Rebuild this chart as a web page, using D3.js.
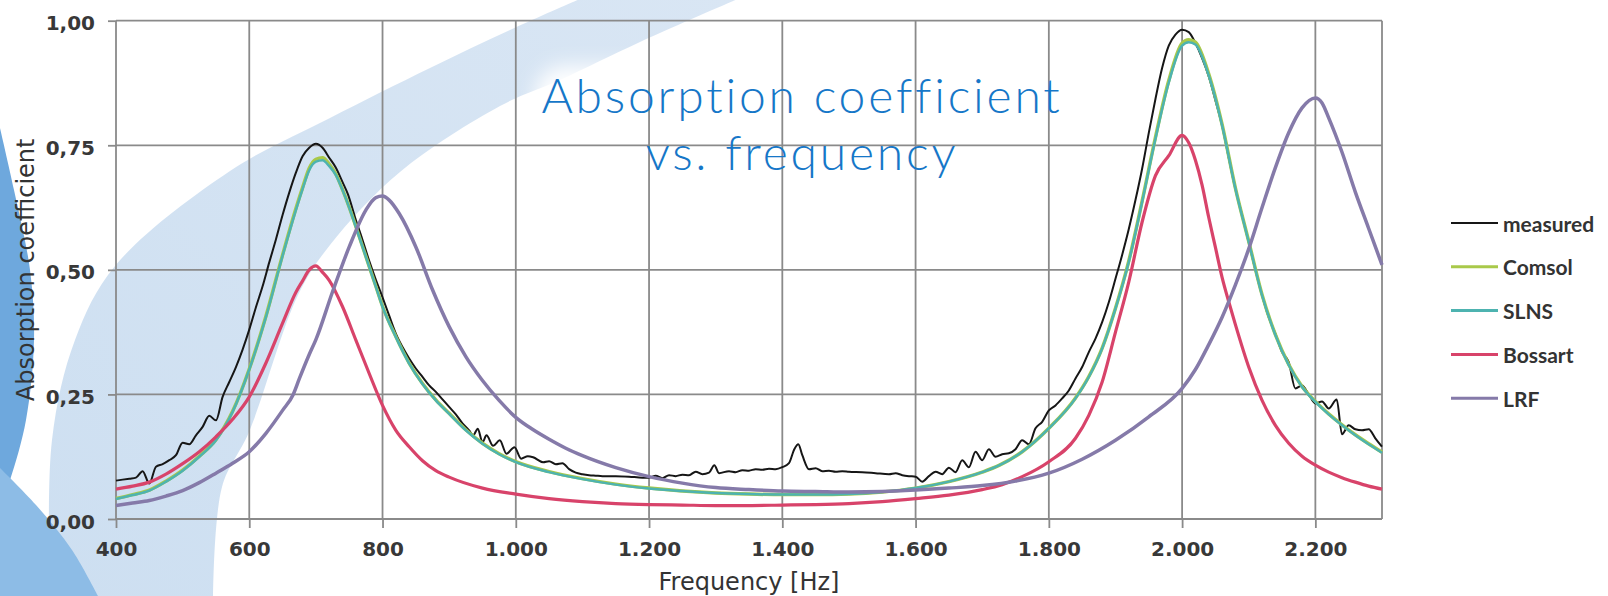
<!DOCTYPE html>
<html>
<head>
<meta charset="utf-8">
<script src="https://cdn.jsdelivr.net/npm/d3@7"></script>
<style>
  html, body { margin: 0; padding: 0; background: #fff; }
  svg { display: block; }
</style>
</head>
<body>
<svg id="chart"></svg>
<script>
// data: [frequency Hz, absorption coefficient]
var measured = [
  [400,.077],[410,.079],[420,.081],[430,.083],[440,.096],[450,.071],[460,.105],[470,.110],[480,.118],[490,.128],
  [500,.153],[510,.150],[520,.168],[530,.185],[540,.207],[550,.198],[560,.245],[570,.275],[580,.305],[590,.340],
  [600,.380],[610,.425],[620,.467],[630,.515],[640,.561],[650,.610],[660,.655],[670,.695],[680,.728],[690,.745],
  [700,.753],[710,.745],[720,.725],[730,.705],[740,.676],[748,.652],[760,.600],[770,.560],[780,.518],[790,.480],
  [800,.445],[810,.408],[820,.372],[830,.345],[840,.322],[850,.302],[860,.285],[870,.268],[880,.255],[890,.240],
  [900,.225],[910,.210],[920,.192],[930,.178],[936,.168],[943,.181],[950,.154],[956,.168],[966,.147],[976,.158],
  [986,.131],[998,.144],[1008,.121],[1018,.126],[1026,.124],[1041,.114],[1050,.116],[1060,.110],[1070,.112],[1080,.100],
  [1090,.093],[1100,.090],[1110,.088],[1120,.087],[1130,.086],[1150,.086],[1170,.085],[1190,.083],[1200,.083],[1210,.087],
  [1220,.082],[1230,.088],[1240,.086],[1250,.089],[1260,.088],[1270,.095],[1280,.090],[1290,.093],[1298,.108],[1305,.092],
  [1320,.096],[1330,.094],[1340,.098],[1350,.097],[1360,.100],[1370,.099],[1380,.101],[1390,.100],[1400,.104],[1410,.112],
  [1418,.140],[1424,.150],[1430,.128],[1440,.100],[1450,.102],[1460,.096],[1470,.097],[1480,.095],[1490,.096],[1500,.095],
  [1520,.094],[1540,.092],[1560,.090],[1570,.092],[1580,.088],[1590,.086],[1600,.085],[1610,.075],[1620,.086],[1630,.095],
  [1640,.090],[1650,.103],[1660,.094],[1670,.118],[1680,.104],[1690,.135],[1700,.118],[1710,.140],[1720,.125],[1730,.130],
  [1740,.132],[1750,.140],[1760,.158],[1770,.150],[1780,.182],[1790,.195],[1800,.218],[1810,.228],[1820,.242],[1830,.258],
  [1840,.282],[1850,.305],[1860,.335],[1870,.362],[1880,.395],[1890,.435],[1900,.482],[1910,.530],[1920,.582],[1930,.640],
  [1940,.703],[1950,.775],[1960,.843],[1970,.905],[1980,.950],[1990,.972],[2000,.982],[2010,.977],[2020,.955],[2030,.925],
  [2040,.888],[2050,.840],[2060,.790],[2070,.725],[2080,.663],[2090,.610],[2100,.556],[2110,.500],[2120,.449],[2130,.405],
  [2140,.372],[2150,.335],[2160,.315],[2170,.262],[2180,.268],[2190,.250],[2200,.232],[2210,.236],[2220,.222],[2232,.240],
  [2240,.170],[2250,.188],[2260,.180],[2270,.178],[2280,.180],[2290,.162],[2300,.145]
];

var slns = [
  [400,.040],[425,.048],[450,.057],[475,.075],[500,.097],[525,.125],[550,.158],[575,.215],[600,.300],[625,.405],
  [650,.528],[670,.620],[680,.662],[690,.700],[700,.717],[710,.720],[720,.708],[730,.690],[740,.660],[750,.625],
  [760,.586],[770,.546],[780,.506],[790,.466],[800,.426],[820,.365],[840,.312],[860,.271],[880,.238],[900,.211],
  [925,.178],[950,.151],[975,.130],[1000,.114],[1050,.094],[1100,.080],[1150,.069],[1200,.061],[1250,.056],[1300,.052],
  [1350,.050],[1400,.049],[1450,.049],[1500,.050],[1550,.054],[1600,.062],[1650,.075],[1700,.094],[1726,.108],[1760,.135],
  [1800,.182],[1840,.242],[1860,.285],[1880,.342],[1900,.422],[1920,.516],[1940,.636],[1960,.763],[1980,.876],[2000,.950],
  [2010,.957],[2020,.952],[2040,.890],[2060,.790],[2080,.663],[2100,.556],[2120,.449],[2140,.369],[2160,.309],[2180,.265],
  [2200,.235],[2220,.210],[2240,.188],[2260,.168],[2280,.150],[2300,.133]
];

var comsol = [
  [400,.041],[425,.049],[450,.058],[475,.076],[500,.098],[525,.126],[550,.159],[575,.216],[600,.301],[625,.407],
  [650,.530],[670,.623],[680,.665],[690,.704],[700,.722],[710,.725],[720,.712],[730,.692],[740,.661],[750,.626],
  [760,.587],[770,.547],[780,.507],[790,.467],[800,.427],[820,.366],[840,.313],[860,.272],[880,.239],[900,.212],
  [925,.179],[950,.152],[975,.131],[1000,.115],[1050,.095],[1100,.081],[1150,.070],[1200,.062],[1250,.056],[1300,.052],
  [1350,.050],[1400,.049],[1450,.049],[1500,.050],[1550,.054],[1600,.062],[1650,.075],[1700,.094],[1726,.108],[1760,.135],
  [1800,.182],[1840,.243],[1860,.286],[1880,.343],[1900,.423],[1920,.518],[1940,.638],[1960,.766],[1980,.880],[2000,.955],
  [2010,.962],[2020,.957],[2040,.893],[2060,.792],[2080,.664],[2100,.557],[2120,.450],[2140,.370],[2160,.310],[2180,.266],
  [2200,.236],[2220,.211],[2240,.189],[2260,.169],[2280,.151],[2300,.134]
];

var bossart = [
  [400,.060],[425,.066],[450,.074],[475,.090],[500,.111],[525,.135],[550,.165],[575,.200],[600,.245],[625,.313],
  [650,.393],[670,.455],[680,.478],[690,.500],[700,.508],[710,.495],[720,.479],[740,.426],[760,.359],[780,.292],
  [800,.228],[820,.178],[840,.145],[860,.117],[880,.097],[900,.084],[950,.062],[1000,.050],[1050,.041],[1100,.035],
  [1150,.031],[1200,.029],[1250,.028],[1300,.027],[1350,.027],[1400,.028],[1450,.029],[1500,.031],[1550,.035],[1600,.041],
  [1650,.048],[1700,.059],[1730,.069],[1760,.085],[1800,.115],[1840,.162],[1860,.208],[1880,.275],[1900,.375],[1920,.476],
  [1940,.596],[1960,.689],[1980,.729],[2000,.770],[2010,.755],[2020,.720],[2030,.670],[2040,.605],[2050,.545],[2060,.485],
  [2070,.436],[2080,.390],[2100,.305],[2120,.238],[2140,.188],[2160,.152],[2180,.126],[2200,.108],[2220,.094],[2240,.083],
  [2260,.074],[2280,.066],[2300,.060]
];

var lrf = [
  [400,.027],[425,.032],[450,.037],[475,.046],[500,.057],[525,.073],[550,.092],[575,.112],[600,.135],[625,.172],
  [650,.218],[666,.250],[675,.281],[690,.330],[700,.360],[725,.456],[750,.546],[775,.620],[790,.645],[800,.648],
  [810,.640],[825,.613],[850,.546],[875,.460],[900,.386],[925,.326],[950,.278],[975,.238],[1000,.204],[1025,.180],
  [1050,.160],[1075,.142],[1100,.127],[1150,.103],[1200,.085],[1250,.072],[1300,.063],[1350,.059],[1400,.056],[1450,.055],
  [1500,.054],[1550,.055],[1600,.058],[1650,.062],[1700,.067],[1750,.076],[1800,.092],[1850,.120],[1900,.158],[1950,.205],
  [2000,.262],[2020,.300],[2040,.350],[2060,.405],[2080,.470],[2100,.542],[2120,.625],[2140,.705],[2160,.775],[2180,.825],
  [2200,.845],[2210,.835],[2220,.805],[2240,.736],[2260,.656],[2280,.583],[2300,.510]
];

var seriesNames = ["measured", "Comsol", "SLNS", "Bossart", "LRF"];
var seriesColors = ["#161616", "#a9c94a", "#4db3b0", "#d8436a", "#857aa9"];
var seriesWidths = [2, 3.5, 2.5, 3.2, 3.5];
var seriesData = [measured, comsol, slns, bossart, lrf];

var xTicks = [400, 600, 800, 1000, 1200, 1400, 1600, 1800, 2000, 2200];
var yTicks = [0, 0.25, 0.5, 0.75, 1];

var width = 1608, height = 596;
var plot = {left: 116, right: 1382, top: 20.7, bottom: 519};

var svg = d3.select("#chart")
  .attr("width", width)
  .attr("height", height);

// background swoosh (decoration only)
var defs = svg.append("defs");
var grad = defs.append("linearGradient")
  .attr("id", "bandGrad")
  .attr("x1", 0).attr("y1", 1).attr("x2", 1).attr("y2", 0);
grad.append("stop").attr("offset", "0%").attr("stop-color", "#cddff1");
grad.append("stop").attr("offset", "100%").attr("stop-color", "#d9e6f4");
defs.append("filter").attr("id", "soft")
  .attr("x", "-20%").attr("y", "-40%").attr("width", "140%").attr("height", "180%")
  .append("feGaussianBlur").attr("stdDeviation", 10);

var bgLine = d3.line().curve(d3.curveCatmullRom.alpha(0.5));
var outerEdge = [[50,600],[52,440],[75,340],[115,266],[230,171],[330,118],[430,68],[510,30],[582,-2]];
var innerEdge = [[740,-2],[640,42],[560,80],[500,106],[400,172],[330,245],[298,295],[249,432],[222,487],[213,600]];
svg.append("path")
  .attr("d", bgLine(outerEdge) + "L" + bgLine(innerEdge).slice(1) + "Z")
  .attr("fill", "url(#bandGrad)");

svg.append("path")
  .attr("d", bgLine([[0,128],[14,190],[30,270],[34,340],[26,420],[10,480],[0,505]]) + "Z")
  .attr("fill", "#6ea8dd");

svg.append("path")
  .attr("d", bgLine([[0,468],[36,505],[72,550],[100,600]]) + "L0,600Z")
  .attr("fill", "#8dbce6");

// white glow behind the title
svg.append("rect")
  .attr("x", 535).attr("y", 66).attr("width", 535).attr("height", 118)
  .attr("rx", 30)
  .attr("fill", "#fff")
  .attr("filter", "url(#soft)");

var x = d3.scaleLinear().domain([400, 2300]).range([plot.left, plot.right]);
var y = d3.scaleLinear().domain([0, 1]).range([plot.bottom, plot.top]);

// grid
var grid = svg.append("g");
grid.selectAll(".vgrid")
  .data(xTicks.concat([2300]))
  .enter().append("line")
  .attr("x1", function(d) { return x(d); })
  .attr("x2", function(d) { return x(d); })
  .attr("y1", plot.top)
  .attr("y2", plot.bottom)
  .attr("stroke", "#8a8a8a")
  .attr("stroke-width", 1.8);
grid.selectAll(".hgrid")
  .data(yTicks)
  .enter().append("line")
  .attr("x1", plot.left)
  .attr("x2", plot.right)
  .attr("y1", function(d) { return y(d); })
  .attr("y2", function(d) { return y(d); })
  .attr("stroke", "#8a8a8a")
  .attr("stroke-width", 1.8);

var xAxis = svg.append("g")
  .attr("transform", "translate(0," + plot.bottom + ")")
  .call(d3.axisBottom(x)
    .tickValues(xTicks)
    .tickSize(9)
    .tickPadding(14)
    .tickFormat(function(d) { return d3.format(",")(d).replace(/,/g, "."); }));

var yAxis = svg.append("g")
  .attr("transform", "translate(" + plot.left + ",0)")
  .call(d3.axisLeft(y)
    .tickValues(yTicks)
    .tickSize(8)
    .tickPadding(13)
    .tickFormat(function(d) { return d3.format(".2f")(d).replace(".", ","); }));

[xAxis, yAxis].forEach(function(ax) {
  ax.select(".domain").remove();
  ax.selectAll(".tick line").attr("stroke", "#8a8a8a").attr("stroke-width", 1.8);
  ax.selectAll(".tick text")
    .attr("fill", "#383838")
    .style("font-family", "'DejaVu Sans', sans-serif")
    .style("font-weight", "bold")
    .style("font-size", "20px");
});
yAxis.selectAll(".tick text").attr("dy", "0.45em");

// axis titles
svg.append("text")
  .attr("transform", "translate(26," + ((plot.top + plot.bottom) / 2) + ") rotate(-90)")
  .attr("text-anchor", "middle")
  .attr("dominant-baseline", "central")
  .attr("fill", "#333")
  .style("font-family", "'DejaVu Sans', sans-serif")
  .style("font-size", "24px")
  .text("Absorption coefficient");

svg.append("text")
  .attr("x", (plot.left + plot.right) / 2)
  .attr("y", 590)
  .attr("text-anchor", "middle")
  .attr("fill", "#333")
  .style("font-family", "'DejaVu Sans', sans-serif")
  .style("font-size", "24px")
  .text("Frequency [Hz]");

// series
var line = d3.line()
  .x(function(d) { return x(d[0]); })
  .y(function(d) { return y(d[1]); })
  .curve(d3.curveMonotoneX);

var lines = svg.append("g");
seriesData.forEach(function(data, i) {
  lines.append("path")
    .datum(data)
    .attr("d", line)
    .attr("fill", "none")
    .attr("stroke", seriesColors[i])
    .attr("stroke-width", seriesWidths[i])
    .attr("stroke-linejoin", "round");
});

// title
var title = svg.append("text")
  .attr("text-anchor", "middle")
  .attr("fill", "#1677c8")
  .style("font-family", "Lato, sans-serif")
  .style("font-weight", 300)
  .style("font-size", "48px")
  .style("letter-spacing", "2.8px");
title.append("tspan").attr("x", 802).attr("y", 113).text("Absorption coefficient");
title.append("tspan").attr("x", 802).attr("y", 170).text("vs. frequency");

// legend
var legend = svg.append("g");
seriesNames.forEach(function(name, i) {
  var ly = 223 + i * 43.8;
  legend.append("line")
    .attr("x1", 1451).attr("x2", 1498)
    .attr("y1", ly).attr("y2", ly)
    .attr("stroke", seriesColors[i])
    .attr("stroke-width", i == 0 ? 2 : 3);
  legend.append("text")
    .attr("x", 1503)
    .attr("y", ly)
    .attr("dominant-baseline", "central")
    .attr("fill", "#333")
    .style("font-family", "Lato, sans-serif")
    .style("font-weight", "bold")
    .style("font-size", "21px")
    .text(name);
});
</script>
</body>
</html>
